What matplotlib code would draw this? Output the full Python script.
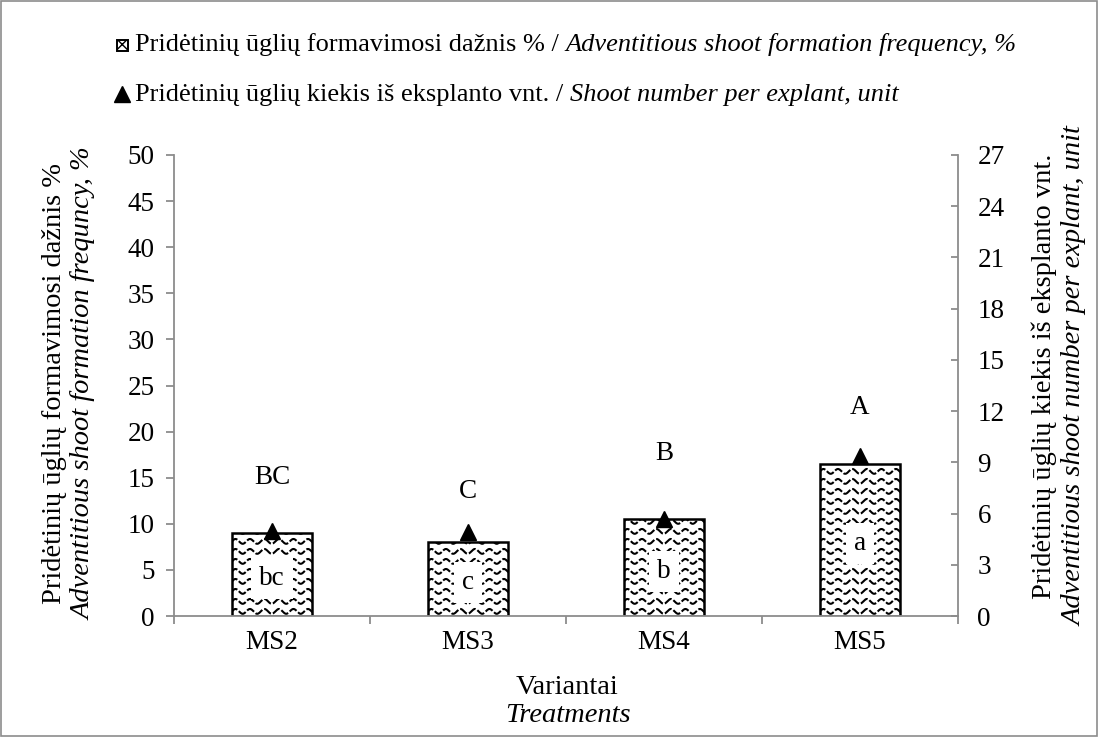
import numpy as np
import matplotlib
matplotlib.use("Agg")
import matplotlib.pyplot as plt
from matplotlib.patches import Rectangle
from matplotlib.lines import Line2D

plt.rcParams['font.family'] = ['Liberation Serif', 'DejaVu Serif']
plt.rcParams['font.size'] = 19.5

treatments = ['MS2', 'MS3', 'MS4', 'MS5']
freq = [9.0, 8.0, 10.5, 16.5]          # adventitious shoot formation frequency, %
shoots = [5.0, 4.9, 5.7, 9.4]          # shoot number per explant
freq_letters = ['bc', 'c', 'b', 'a']
shoot_letters = ['BC', 'C', 'B', 'A']

# where the upper-case letters sit (right axis units)
letter_y = [8.1, 7.3, 9.5, 12.2]

W, H = 1099, 737
fig = plt.figure(figsize=(W / 100, H / 100), dpi=100)
L, R, T, B = 174, 958, 155, 616
ax = fig.add_axes([L / W, 1 - B / H, (R - L) / W, (B - T) / H])
ax2 = ax.twinx()

grey = '#8c8c8c'
x = np.arange(len(treatments))
bw = 0.41
bars = ax.bar(x, freq, width=bw, color='white', edgecolor='black', linewidth=1.8, zorder=2)

# wavy hatch drawn as clipped sine lines
pxx = (R - L) / 4.0
pxy = (B - T) / 50.0
period = 14.5 / pxx
amp = 2.4 / pxy
gap = 10 / pxy
for bar in bars:
    x0 = bar.get_x()
    xs = np.linspace(x0 - 0.05, x0 + bw + 0.05, 300)
    yy = 0.5
    while yy < bar.get_height() + gap:
        ln, = ax.plot(xs, yy + amp * np.sin(2 * np.pi * (xs - x0) / period),
                      color='black', lw=1.5, ls=(0, (4, 1)), zorder=3)
        ln.set_clip_path(bar)
        yy += gap

for xi, v, t in zip(x, freq, freq_letters):
    ax.text(xi, v / 2 - 0.4, t, ha='center', va='center', zorder=5,
            bbox=dict(boxstyle='square,pad=0.3', fc='white', ec='none'))

ax.set_xlim(-0.5, 3.5)
ax.set_ylim(0, 50)
ax.set_yticks(np.arange(0, 51, 5))
ax.set_xticks(x)
ax.set_xticklabels(treatments)
ax.set_xticks(np.arange(-0.5, 4, 1), minor=True)
ax.tick_params(axis='x', which='major', length=0, pad=10)
ax.tick_params(axis='x', which='minor', length=6, color=grey, width=1.3)
ax.tick_params(axis='y', length=6, color=grey, width=1.3, pad=8)

ax2.plot(x, shoots, linestyle='none', marker='^', color='black', markersize=11, zorder=6)
for xi, ly, t in zip(x, letter_y, shoot_letters):
    ax2.text(xi, ly, t, ha='center', va='center')
ax2.set_ylim(0, 27)
ax2.set_yticks(np.arange(0, 28, 3))
ax2.tick_params(axis='y', direction='in', length=5, color=grey, width=1.3, pad=14)

for a in (ax, ax2):
    a.spines['top'].set_visible(False)
    for s in ('left', 'right', 'bottom'):
        a.spines[s].set_color(grey)
        a.spines[s].set_linewidth(1.3)
ax.spines['right'].set_visible(False)
ax2.spines['left'].set_visible(False)
ax2.spines['bottom'].set_visible(False)

# axis titles
ts = 20.5
fig.text(55 / W, 1 - 384 / H, 'Pridėtinių ūglių formavimosi dažnis %', rotation=90,
         ha='center', va='center', fontsize=ts)
fig.text(84 / W, 1 - 384 / H, 'Adventitious shoot formation frequncy, %', rotation=90,
         ha='center', va='center', style='italic', fontsize=ts)
fig.text(1044 / W, 1 - 376 / H, 'Pridėtinių ūglių kiekis iš eksplanto vnt.', rotation=90,
         ha='center', va='center', fontsize=ts)
fig.text(1075 / W, 1 - 376 / H, 'Adventitious shoot number per explant, unit', rotation=90,
         ha='center', va='center', style='italic', fontsize=ts)
fig.text(567 / W, 1 - 688 / H, 'Variantai', ha='center', va='center', fontsize=20.5)
fig.text(568 / W, 1 - 716 / H, 'Treatments', ha='center', va='center', style='italic',
         fontsize=20.5)

# legend built by hand (mixed regular / italic text)
renderer = fig.canvas.get_renderer()
rows = [(45, 'Pridėtinių ūglių formavimosi dažnis % / ', 'Adventitious shoot formation frequency, %'),
        (95, 'Pridėtinių ūglių kiekis iš eksplanto vnt. / ', 'Shoot number per explant, unit')]
for y, reg, it in rows:
    t1 = fig.text(135 / W, 1 - y / H, reg, ha='left', va='center', fontsize=19)
    bb = t1.get_window_extent(renderer)
    fig.text(bb.x1 / W, 1 - y / H, it, ha='left', va='center', style='italic', fontsize=19)

fig.patches.append(Rectangle((117 / W, 1 - 51 / H), 11 / W, 11 / H, transform=fig.transFigure,
                             fc='white', ec='black', lw=1.4, hatch='xxx'))
fig.lines.append(Line2D([122 / W], [1 - 94 / H], transform=fig.transFigure, marker='^',
                        color='black', markersize=11, linestyle='none'))

fig.patches.append(Rectangle((0.0005, 0.0008), 0.998, 0.998, transform=fig.transFigure,
                             fill=False, ec=grey, lw=1.2))

fig.savefig('out.png', dpi=100)
